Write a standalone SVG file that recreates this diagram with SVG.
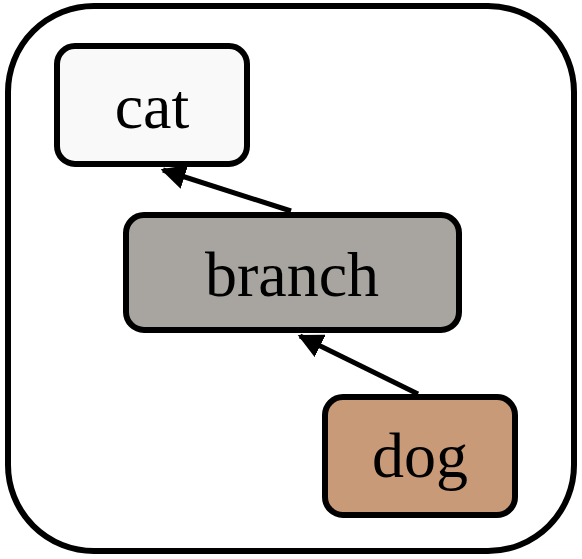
<svg xmlns="http://www.w3.org/2000/svg" width="582" height="559" viewBox="0 0 582 559">
  <style>
    .box { stroke: #000; stroke-width: 6; }
    .label { font-family: "Liberation Serif", "Times New Roman", serif; font-size: 64px; text-anchor: middle; fill: #000; }
    .edge { stroke: #000; stroke-width: 5; fill: none; }
  </style>
  <defs>
    <marker id="arrow" viewBox="0 0 10 10" refX="9" refY="5" markerWidth="5" markerHeight="5" markerUnits="strokeWidth" orient="auto">
      <path d="M0,0 L10,5 L0,10 Z" fill="#000"/>
    </marker>
  </defs>

  <!-- enclosing frame -->
  <rect x="8" y="6" width="566" height="545" rx="86" ry="86" fill="#fff" stroke="#000" stroke-width="6"/>

  <!-- connectors -->
  <g id="edges">
    <line class="edge" x1="291" y1="211" x2="163" y2="170" marker-end="url(#arrow)"/>
    <line class="edge" x1="418" y1="394" x2="300" y2="336" marker-end="url(#arrow)"/>
  </g>

  <g id="cat">
    <rect class="box" x="57" y="46" width="190" height="118" rx="18" fill="#f9f9f9"/>
    <text class="label" x="152" y="128">cat</text>
  </g>

  <g id="branch">
    <rect class="box" x="126" y="215" width="333" height="115" rx="18" fill="#a8a49f"/>
    <text class="label" x="292" y="296">branch</text>
  </g>

  <g id="dog">
    <rect class="box" x="325" y="397" width="190" height="118" rx="18" fill="#c99a78"/>
    <text class="label" x="420" y="477">dog</text>
  </g>
</svg>
